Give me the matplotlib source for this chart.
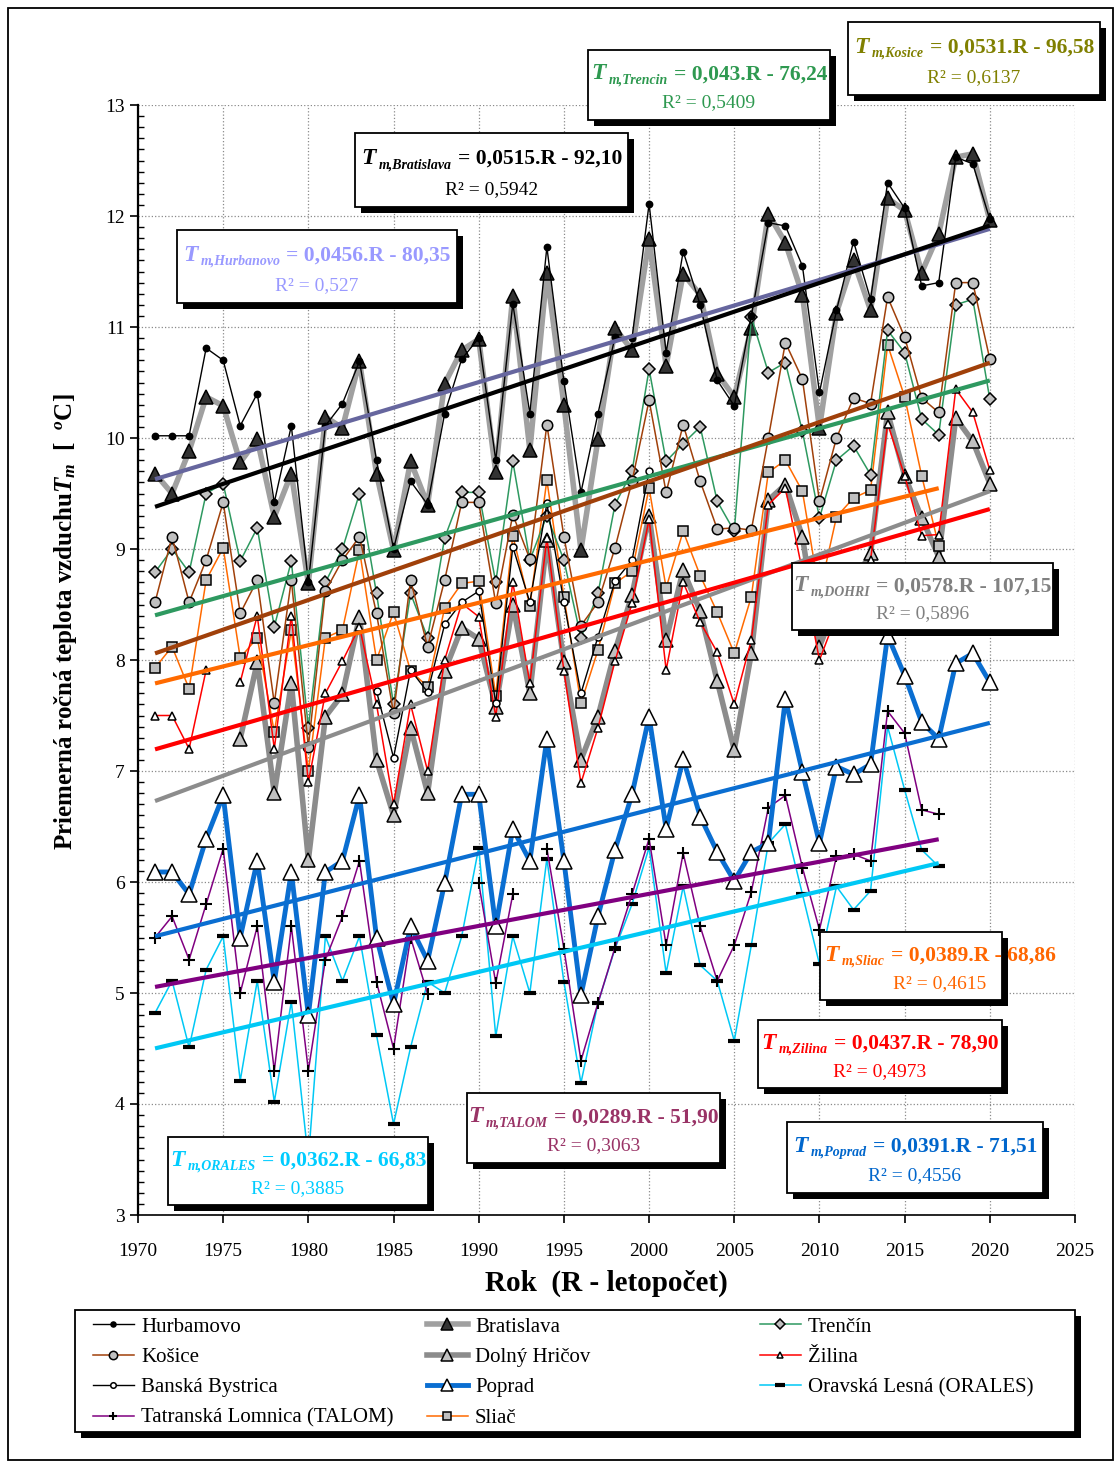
import numpy as np
import matplotlib
matplotlib.use('Agg')
import matplotlib.pyplot as plt
from matplotlib.patches import Rectangle

plt.rcParams['font.family'] = ['Liberation Serif', 'DejaVu Serif']
plt.rcParams['mathtext.fontset'] = 'custom'
plt.rcParams['mathtext.it'] = 'Liberation Serif:italic:bold'
plt.rcParams['mathtext.rm'] = 'Liberation Serif:bold'

nan = np.nan
years = np.arange(1971, 2021)

# priemerne rocne teploty [°C], 1971-2020
hurbanovo = [10.02, 10.02, 10.02, 10.81, 10.70, 10.11, 10.40, 9.42, 10.11, 8.70,
             10.11, 10.31, 10.69, 9.80, 9.00, 9.61, 9.40, 10.22, 10.71, 10.90,
             9.80, 11.21, 10.22, 11.72, 10.51, 9.51, 10.22, 10.91, 10.90, 12.11,
             10.77, 11.68, 11.20, 10.52, 10.29, 11.10, 11.94, 11.91, 11.55, 10.41,
             11.15, 11.77, 11.25, 12.30, 12.07, 11.37, 11.40, 12.53, 12.47, 11.97]
bratislava = [9.68, 9.50, 9.88, 10.37, 10.29, 9.78, 9.99, 9.29, 9.68, 8.69,
              10.19, 10.09, 10.69, 9.68, 8.99, 9.79, 9.40, 10.49, 10.79, 10.89,
              9.69, 11.28, 9.89, 11.49, 10.30, 8.99, 9.99, 10.99, 10.79, 11.79,
              10.65, 11.48, 11.29, 10.58, 10.37, 10.99, 12.02, 11.76, 11.29, 10.09,
              11.13, 11.60, 11.15, 12.16, 12.05, 11.49, 11.84, 12.53, 12.56, 11.96]
trencin = [8.79, 9.00, 8.79, 9.50, 9.59, 8.89, 9.19, 8.30, 8.89, 7.39,
           8.70, 9.00, 9.50, 8.60, 7.60, 8.60, 8.20, 9.10, 9.51, 9.51,
           8.70, 9.79, 8.90, 9.30, 8.90, 8.20, 8.60, 9.40, 9.70, 10.62,
           9.79, 9.95, 10.10, 9.43, 9.16, 11.09, 10.59, 10.68, 10.06, 9.28,
           9.80, 9.93, 9.67, 10.97, 10.77, 10.17, 10.03, 11.20, 11.25, 10.35]
kosice = [8.52, 9.11, 8.52, 8.90, 9.42, 8.42, 8.72, 7.61, 8.72, 7.22,
          8.62, 8.90, 9.11, 8.42, 7.52, 8.72, 8.12, 8.72, 9.42, 9.42,
          8.51, 9.31, 8.91, 10.12, 9.11, 8.31, 8.52, 9.01, 9.61, 10.34,
          9.51, 10.12, 9.61, 9.18, 9.19, 9.17, 10.00, 10.86, 10.53, 9.43,
          10.00, 10.36, 10.31, 11.27, 10.91, 10.36, 10.23, 11.40, 11.40, 10.71]
dolny_hricov = [nan, nan, nan, nan, nan, 7.29, 7.98, 6.80, 7.79, 6.20,
                7.49, 7.69, 8.39, 7.10, 6.60, 7.39, 6.80, 7.90, 8.29, 8.19,
                7.58, 8.50, 7.70, 9.08, 7.98, 7.10, 7.49, 8.08, 8.59, 9.30,
                8.18, 8.81, 8.44, 7.81, 7.19, 8.06, 9.44, 9.58, 9.11, 8.12,
                8.50, 8.70, 8.96, 10.23, 9.66, 9.28, 8.93, 10.18, 9.97, 9.59]
zilina = [7.50, 7.50, 7.20, 7.91, nan, 7.80, 8.40, 7.20, 8.40, 6.90,
          7.70, 7.99, 8.30, 7.60, 6.70, 7.60, 7.00, 8.00, 8.51, 8.39,
          7.49, 8.70, 7.79, 9.10, 7.90, 6.89, 7.39, 7.99, 8.51, 9.27,
          7.91, 8.70, 8.34, 8.07, 7.60, 8.18, 9.40, 9.55, 8.80, 8.00,
          8.40, 8.60, 8.90, 10.13, 9.66, 9.12, 9.13, 10.44, 10.23, 9.71]
banska_bystrica = [nan] * 13 + [7.72, 7.12, 7.91, 7.71, 8.32, 8.52, 8.62,
                                7.61, 9.02, 8.52, 9.41, 8.52, 7.70, 8.21, 8.71,
                                8.90, 9.70] + [nan] * 20
poprad = [6.09, 6.09, 5.89, 6.39, 6.78, 5.50, 6.19, 5.10, 6.09, 4.80,
          6.09, 6.19, 6.78, 5.50, 4.90, 5.60, 5.29, 5.99, 6.79, 6.79,
          5.60, 6.48, 6.19, 7.29, 6.19, 4.98, 5.69, 6.29, 6.79, 7.49,
          6.48, 7.11, 6.59, 6.27, 6.01, 6.27, 6.35, 7.65, 6.99, 6.35,
          7.04, 6.97, 7.06, 8.22, 7.86, 7.44, 7.29, 7.97, 8.06, 7.80]
orales = [4.82, 5.11, 4.51, 5.21, 5.51, 4.21, 5.11, 4.02, 4.92, 3.50,
          5.51, 5.11, 5.51, 4.62, 3.82, 4.51, 5.10, 5.00, 5.51, 6.31,
          4.61, 5.51, 5.00, 6.21, 5.10, 4.19, 4.91, 5.40, 5.80, 6.31,
          5.18, 5.96, 5.25, 5.11, 4.57, 5.43, 6.35, 6.52, 5.89, 5.26,
          5.96, 5.75, 5.92, 7.40, 6.83, 6.29, 6.14, nan, nan, nan]
talom = [5.50, 5.69, 5.30, 5.80, 6.30, 5.00, 5.60, 4.30, 5.60, 4.30,
         5.30, 5.69, 6.19, 5.10, 4.50, 5.50, 4.99, nan, nan, 5.99,
         5.09, 5.89, nan, 6.30, 5.40, 4.39, 4.91, 5.41, 5.89, 6.39,
         5.43, 6.26, 5.60, 5.11, 5.43, 5.91, 6.67, 6.78, 6.13, 5.57,
         6.23, 6.25, 6.19, 7.54, 7.34, 6.65, 6.61, nan, nan, nan]
sliac = [7.93, 8.12, 7.74, 8.72, 9.01, 8.02, 8.20, 7.35, 8.27, 7.00,
         8.20, 8.27, 8.99, 8.00, 8.43, 7.90, 7.76, 8.47, 8.69, 8.71,
         7.68, 9.12, 8.49, 9.62, 8.57, 7.61, 8.09, 8.69, 8.80, 9.55,
         8.65, 9.16, 8.76, 8.43, 8.06, 8.57, 9.69, 9.80, 9.52, 8.60,
         9.29, 9.46, 9.53, 10.84, 10.37, 9.66, 9.03, nan, nan, nan]

W, H = 1117, 1463
fig = plt.figure(figsize=(W / 100, H / 100), dpi=100)
ax = fig.add_axes([138 / W, 1 - 1215 / H, (1075 - 138) / W, (1215 - 105) / H])


def fx(x):
    return x / W


def fy(y):
    return 1 - y / H


GRAY_FILL = '#c0c0c0'
series = {}
# (label, data, color, lw, marker, ms, face, zorder)
styles = [
    ('Hurbamovo', hurbanovo, 'black', 1.0, 'o', 4.5, 'black', 3.2),
    ('Bratislava', bratislava, '#a0a0a0', 4.0, '^', 10, '#333333', 2.2),
    ('Trenčín', trencin, '#2e9960', 1.1, 'D', 6.5, GRAY_FILL, 3.0),
    ('Košice', kosice, '#a0400a', 1.1, 'o', 7.5, GRAY_FILL, 3.0),
    ('Dolný Hričov', dolny_hricov, '#8c8c8c', 4.0, '^', 10, GRAY_FILL, 2.0),
    ('Žilina', zilina, '#ff0000', 1.1, '^', 6, 'white', 3.1),
    ('Banská Bystrica', banska_bystrica, 'black', 1.0, 'o', 5, 'white', 3.1),
    ('Poprad', poprad, '#0a6ed1', 3.5, '^', 11, 'white', 2.6),
    ('Oravská Lesná (ORALES)', orales, '#00c8f5', 1.1, '_', 9, 'black', 2.4),
    ('Tatranská Lomnica (TALOM)', talom, '#800080', 1.1, '+', 8, 'black', 2.5),
    ('Sliač', sliac, '#ff6a00', 1.1, 's', 7.5, GRAY_FILL, 2.9),
]
for label, data, color, lw, marker, ms, face, z in styles:
    mew = 3.0 if marker == '_' else (1.5 if marker == '+' else 1.1)
    line, = ax.plot(years, data, color=color, lw=lw, marker=marker, ms=ms,
                    mfc=face, mec='black', mew=mew, zorder=z, label=label)
    series[label] = line

# linearne trendy (od roku 1971 po posledny rok merania)
trend_colors = {
    'Hurbamovo': '#66669e', 'Bratislava': 'black', 'Trenčín': '#2e9960',
    'Košice': '#a0400a', 'Dolný Hričov': '#8c8c8c', 'Žilina': '#ff0000',
    'Poprad': '#0a6ed1', 'Oravská Lesná (ORALES)': '#00c8f5',
    'Tatranská Lomnica (TALOM)': '#800080', 'Sliač': '#ff6a00',
}
for label, data, *_ in styles:
    if label not in trend_colors:
        continue
    d = np.array(data, dtype=float)
    ok = ~np.isnan(d)
    k, q = np.polyfit(years[ok], d[ok], 1)
    xt = np.array([1971, years[ok][-1]])
    ax.plot(xt, k * xt + q, color=trend_colors[label], lw=3, zorder=4,
            solid_capstyle='butt')

ax.set_xlim(1970, 2025)
ax.set_ylim(3, 13)
ax.set_xticks(np.arange(1970, 2026, 5))
ax.set_yticks(np.arange(3, 14, 1))
ax.set_yticks(np.arange(3, 13.01, 0.1), minor=True)
ax.grid(True, which='major', color='#8a8a8a', linestyle=':', lw=0.9)
ax.tick_params(axis='both', which='major', direction='out', length=6,
               width=1.2, labelsize=14)
ax.tick_params(axis='x', which='major', pad=14)
ax.tick_params(axis='y', which='minor', direction='in', length=4, width=1)
for s in ('top', 'right'):
    ax.spines[s].set_visible(False)
ax.spines['left'].set_linewidth(1.6)
ax.spines['bottom'].set_linewidth(1.2)

fig.text(fx(66), fy(622), 'Priemerná ročná teplota vzduchu$T_m$  [  $^{o}$C]',
         rotation=90, ha='center', va='center', fontsize=18, weight='bold')
fig.text(fx(606), fy(1283), 'Rok  (R - letopočet)', ha='center', va='center',
         fontsize=21, weight='bold')

renderer = fig.canvas.get_renderer()


def rich_line(xc, ybase, parts):
    placed = []
    total = 0
    for gap, s, size, style, weight, dy, color in parts:
        t = fig.text(0, 0, s, fontsize=size, style=style, weight=weight,
                     color=color, va='baseline', zorder=12)
        w = t.get_window_extent(renderer).width
        placed.append((t, gap, w, dy))
        total += gap + w
    x = xc - total / 2
    for t, gap, w, dy in placed:
        x += gap
        t.set_position((fx(x), fy(ybase + dy)))
        x += w


def eq_box(box, sub, eq, r2, color, xc=None):
    x0, y0, x1, y1 = box
    w, h = (x1 - x0) / W, (y1 - y0) / H
    fig.add_artist(Rectangle((fx(x0 + 6), fy(y1 + 6)), w, h, facecolor='black',
                             edgecolor='none', transform=fig.transFigure, zorder=10))
    fig.add_artist(Rectangle((fx(x0), fy(y1)), w, h, facecolor='white',
                             edgecolor='black', lw=1.3, transform=fig.transFigure,
                             zorder=11))
    hh = y1 - y0
    if xc is None:
        xc = (x0 + x1) / 2
    rich_line(xc, y0 + 0.42 * hh, [
        (0, 'T', 17, 'italic', 'bold', 0, color),
        (3, sub, 10, 'italic', 'bold', 4, color),
        (6, '= ' + eq, 15.5, 'normal', 'bold', 0, color),
    ])
    rich_line(xc, y0 + 0.82 * hh, [(0, 'R² = ' + r2, 14, 'normal', 'normal', 0, color)])


eq_boxes = [
    ((848, 22, 1100, 95), 'm,Kosice', '0,0531.R - 96,58', '0,6137', '#808000'),
    ((588, 50, 830, 120), 'm,Trencin', '0,043.R - 76,24', '0,5409', '#2e9950'),
    ((355, 133, 628, 207), 'm,Bratislava', '0,0515.R - 92,10', '0,5942', 'black'),
    ((177, 230, 457, 303), 'm,Hurbanovo', '0,0456.R - 80,35', '0,527', '#9999ff'),
    ((792, 563, 1053, 630), 'm,DOHRI', '0,0578.R - 107,15', '0,5896', '#808080'),
    ((820, 932, 1002, 1000), 'm,Sliac', '0,0389.R - 68,86', '0,4615', '#ff6600', 940),
    ((758, 1020, 1002, 1088), 'm,Zilina', '0,0437.R - 78,90', '0,4973', '#ff0000'),
    ((467, 1093, 720, 1163), 'm,TALOM', '0,0289.R - 51,90', '0,3063', '#993366'),
    ((787, 1122, 1043, 1193), 'm,Poprad', '0,0391.R - 71,51', '0,4556', '#0066cc'),
    ((168, 1137, 428, 1205), 'm,ORALES', '0,0362.R - 66,83', '0,3885', '#00ccff'),
]
for args in eq_boxes:
    eq_box(*args)

# legenda
fig.add_artist(Rectangle((fx(81), fy(1438)), 1000 / W, 122 / H, facecolor='black',
                         edgecolor='none', transform=fig.transFigure, zorder=2))
fig.add_artist(Rectangle((fx(75), fy(1432)), 1000 / W, 122 / H, facecolor='white',
                         edgecolor='black', lw=1.3, transform=fig.transFigure, zorder=3))
columns = [
    ['Hurbamovo', 'Košice', 'Banská Bystrica', 'Tatranská Lomnica (TALOM)'],
    ['Bratislava', 'Dolný Hričov', 'Poprad', 'Sliač'],
    ['Trenčín', 'Žilina', 'Oravská Lesná (ORALES)'],
]
for col, x in zip(columns, [93, 427, 760]):
    leg = fig.legend(handles=[series[n] for n in col], labels=col, loc='upper left',
                     bbox_to_anchor=(fx(x), fy(1317)), frameon=False,
                     prop={'size': 15}, handlelength=1.95, handletextpad=0.35,
                     labelspacing=0.52, borderpad=0, borderaxespad=0, markerscale=0.8)
    leg.set_zorder(6)

# ramik celeho grafu
fig.add_artist(Rectangle((fx(8), fy(1460)), 1105 / W, 1452 / H, facecolor='none',
                         edgecolor='black', lw=1.3, transform=fig.transFigure, zorder=20))

fig.savefig('out.png', dpi=100)
